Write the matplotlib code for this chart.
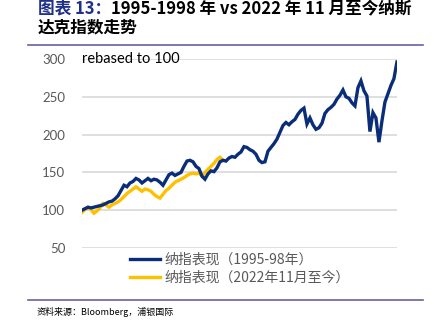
import matplotlib
matplotlib.use("Agg")
import matplotlib.pyplot as plt
from matplotlib.lines import Line2D

plt.rcParams['font.family'] = ['Noto Sans CJK SC', 'DejaVu Sans']

# Nasdaq, rebased to 100 at the start of each window (weekly-ish samples)
nasdaq_1995_98 = [
    100, 102, 104, 103, 104, 105, 106, 107, 109, 111,
    112, 115, 119, 126, 133, 131, 136, 138, 142, 140,
    136, 139, 142, 139, 141, 140, 137, 133, 140, 147,
    149, 146, 148, 150, 158, 165, 166, 164, 158, 155,
    145, 141, 148, 152, 151, 156, 164, 166, 165, 169,
    171, 170, 174, 177, 184, 183, 180, 178, 174, 166,
    163, 164, 178, 183, 188, 194, 203, 212, 216, 213,
    217, 220, 227, 232, 235, 214, 222, 213, 207, 209,
    215, 228, 233, 236, 240, 247, 252, 259, 250, 248,
    242, 238, 262, 271, 258, 251, 204, 229, 222, 190,
    218, 243, 254, 265, 274, 296,
]
nasdaq_2022_now = [
    97, 101, 103, 101, 96, 99, 103, 109, 107, 104,
    107, 109, 111, 114, 118, 122, 125, 128, 131, 128,
    125, 128, 127, 125, 121, 118, 116, 121, 126, 129,
    133, 137, 139, 141, 143, 146, 148, 149, 148, 149,
    145, 150, 154, 158, 162, 167, 170, 166,
]
yticks = [50, 100, 150, 200, 250, 300]
labels = ["纳指表现（1995-98年）", "纳指表现（2022年11月至今）"]

navy = "#0a2d7a"
gold = "#ffc000"

fig = plt.figure(figsize=(4.35, 3.27), dpi=100)
ax = fig.add_axes([0.1885, 0.2416, 0.724, 0.578])

ax.plot(range(len(nasdaq_1995_98)), nasdaq_1995_98, color=navy, lw=2.4,
        solid_joinstyle="miter", zorder=3)
ax.plot(range(len(nasdaq_2022_now)), nasdaq_2022_now, color=gold, lw=2.4,
        solid_joinstyle="miter", zorder=2)

ax.set_xlim(0, len(nasdaq_1995_98) - 1)
ax.set_ylim(50, 300)
ax.set_yticks(yticks)
ax.set_xticks([])
ax.grid(axis="y", color="#d9d9d9", lw=1.2)
ax.set_axisbelow(True)
for s in ax.spines.values():
    s.set_visible(False)
ax.tick_params(axis="y", length=0, pad=12, labelcolor="#595959")
for t in ax.get_yticklabels():
    t.set_fontfamily("Lato")
    t.set_fontsize(9.5)

ax.text(0.005, 300, "rebased to 100", fontsize=10.5, family="Lato",
        color="black", va="center", ha="left")

handles = [Line2D([], [], color=navy, lw=2.4), Line2D([], [], color=gold, lw=2.4)]
leg = fig.legend(handles, labels, loc="upper left", bbox_to_anchor=(0.298, 0.228),
                 frameon=False, fontsize=10, handlelength=2.2, handletextpad=0.3,
                 labelspacing=0.3, borderaxespad=0, borderpad=0)
for t in leg.get_texts():
    t.set_color("#595959")

# header
t1 = fig.text(0.087, 1.003, "图表 13：", fontsize=12, weight="bold",
              color="#1f2f8a", va="top", ha="left")
ax.annotate("1995-1998 年 vs 2022 年 11 月至今纳斯", xy=(1, 0), xycoords=t1,
            va="bottom", ha="left", fontsize=12, weight="bold", color="black",
            annotation_clip=False)
fig.text(0.087, 0.942, "达克指数走势", fontsize=12, weight="bold",
         color="black", va="top", ha="left")

fig.add_artist(Line2D([0.064, 0.972], [1 - 45 / 327] * 2, color="#6b5fa6", lw=1.2))
fig.add_artist(Line2D([0.064, 0.972], [1 - 300 / 327] * 2, color="#6b5fa6", lw=1.2))
fig.text(0.085, 1 - 312 / 327, "资料来源：Bloomberg，浦银国际", fontsize=6.5,
         color="black", va="center", ha="left")

fig.savefig("out.png", dpi=100)
